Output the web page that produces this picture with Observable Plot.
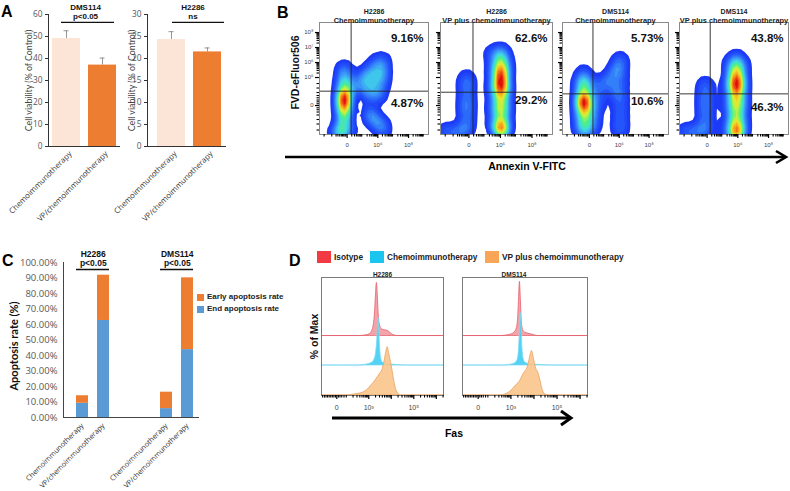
<!DOCTYPE html>
<html><head><meta charset="utf-8">
<script src="https://cdn.jsdelivr.net/npm/d3@7"></script>
<script src="https://cdn.jsdelivr.net/npm/@observablehq/plot@0.6"></script>
<style>
html,body{margin:0;padding:0;background:#fff;}
#root{position:relative;width:790px;height:491px;overflow:hidden;background:#fff;}
.letter{position:absolute;font:bold 16px 'Liberation Sans',Arial,sans-serif;color:#000;line-height:1;}
.lg{position:absolute;font:bold 8px 'Liberation Sans',Arial,sans-serif;color:#222;white-space:nowrap;display:flex;align-items:center;line-height:1;}
.sw{display:inline-block;margin-right:3px;}
</style></head><body><div id="root"></div>
<script>
// ================= DATA =================
// Panel A: cell viability (% of control)
const aTreatments = ["Chemoimmunotherapy", "VP/chemoimmunotherapy"];
const aDms114Mean = [49.1, 37.0];
const aDms114Err = [3.5, 3.2];
const aH2286Mean = [24.3, 21.5];
const aH2286Err = [1.8, 0.9];
const aBarColors = ["#fce4d6", "#ed7d31"];

// Panel B: Annexin V / FVD flow cytometry
const bCells = ["H2286", "H2286", "DMS114", "DMS114"];
const bTreatments = ["Chemoimmunotherapy", "VP plus chemoimmunotherapy", "Chemoimmunotherapy", "VP plus chemoimmunotherapy"];
const bLateApoptosis = [9.16, 62.6, 5.73, 43.8];   // upper-right quadrant
const bEarlyApoptosis = [4.87, 29.2, 10.6, 46.3];  // lower-right quadrant
const bGateAnnexin = [0.13, 0.13, 0.12, 0.10];
const bGateFvd = [4.09, 4.02, 3.91, 3.91];
const bXTickValues = [0, 1, 2];
const bXTickLabels = ["0", "10⁶", "10⁸"];
const bYTickValues = [3.13, 5, 6, 7, 8];
const bYTickLabels = ["0", "10⁵", "10⁶", "10⁷", "10⁸"];
// population anchors: [annexin, fvd, weight]
const bDensity1 = [
  [-0.1,5.6,1],[-0.1,5.13,1.1],[-0.1,4.67,1.3],[-0.1,4.27,1.6],[-0.1,3.87,2.2],[-0.1,3.47,3.2],[-0.1,3.07,2.2],[-0.1,2.67,1.7],[-0.1,2.27,1.4],[-0.13,1.87,1.2],[-0.16,1.47,1.1],[-0.2,1.2,1],
  [-0.35,1.4,0.8],[0.1,1.5,0.6],
  [0.98,6.13,0.6],[1.18,6.13,0.6],
  [0.75,5.67,0.6],[0.98,5.67,0.65],[1.18,5.67,0.6],
  [0.52,5.2,0.6],[0.75,5.2,0.65],[0.98,5.2,0.65],[1.18,5.2,0.6],
  [0.3,4.73,0.6],[0.52,4.73,0.6],[0.75,4.73,0.65],[0.98,4.73,0.65],[1.15,4.73,0.6],
  [0.2,4.27,0.6],[0.43,4.27,0.55],[0.66,4.27,0.6],[0.89,4.27,0.6],[1.08,4.27,0.55],
  [0.66,3.8,0.6],[0.89,3.8,0.6],[1.05,3.8,0.6],
  [0.69,2.6,0.75],[0.82,2.6,0.65],[0.85,2.2,0.75],[1.11,2.0,0.65],[1.02,1.8,0.75],[1.18,1.4,0.75]];
const bDensity2 = [
  [-0.83,1.4,0.9],[-0.63,1.4,0.9],[-0.43,1.4,0.9],[-0.23,1.4,0.9],
  [-0.07,5.07,1],[-0.07,4.67,1.2],[-0.07,4.27,1],[-0.07,3.87,0.9],[-0.07,3.47,1.2],[-0.07,3.07,1.3],[-0.07,2.67,1],[-0.07,2.27,1],[-0.07,1.87,1],[-0.1,1.47,1.1],
  [1.0,6.8,1.2],[1.0,6.4,1.6],[1.0,6.0,2],[1.0,5.6,2.4],[1.0,5.2,3],[1.0,4.8,3.4],[1.0,4.4,3],[1.0,4.0,2.5],[1.0,3.6,2.1],[1.0,3.2,2],[1.0,2.8,1.9],[1.0,2.4,1.8],[1.0,2.0,2],[1.0,1.6,3],[1.03,1.27,3.6],
  [0.8,6.4,1],[0.8,5.73,1.3],[0.8,5.07,1.5],[0.8,4.4,1.5],[0.8,3.73,1.3],[0.8,3.07,1.2],[0.8,2.4,1.2],[0.8,1.73,1.3],
  [1.2,6.4,1],[1.2,5.73,1.3],[1.2,5.07,1.5],[1.2,4.4,1.5],[1.2,3.73,1.3],[1.2,3.07,1.2],[1.2,2.4,1.2],[1.2,1.73,1.3],
  [0.7,6.67,0.8]];
const bDensity3 = [
  [-0.19,5.33,0.9],[-0.19,4.93,1],[-0.19,4.53,1.3],[-0.19,4.13,1.6],[-0.19,3.73,2.2],[-0.19,3.33,3.2],[-0.19,2.93,2.2],[-0.19,2.53,1.6],[-0.19,2.13,1.3],[-0.19,1.73,1.1],[-0.19,1.33,1],
  [-0.33,4.6,0.6],[-0.33,3.6,0.6],[-0.33,2.6,0.6],[-0.33,1.6,0.6],
  [-0.03,4.6,0.6],[-0.03,3.6,0.6],[-0.03,2.6,0.6],[-0.03,1.6,0.6],
  [0.26,4.27,0.75],[0.45,4.67,0.75],[0.65,5.07,0.75],[0.84,5.47,0.75],[1.0,5.93,0.75],[1.03,6.27,0.75],
  [1.03,5.47,0.75],[1.03,4.93,0.75],[1.03,4.4,0.75],[1.03,3.87,0.75],[1.03,3.33,0.75],[1.03,2.8,0.75],[1.03,2.27,0.75],[1.03,1.73,0.75],[1.03,1.27,0.75],
  [0.71,4.53,0.65],[0.84,4.0,0.65],
  [0.29,3.73,0.8],[0.23,3.2,0.8],[0.16,2.67,0.8],[0.13,2.13,0.8],[0.1,1.6,0.8]];
const bDensity4 = [
  [-0.79,1.4,0.9],[-0.6,1.4,0.9],[-0.41,1.4,0.9],[-0.22,1.4,0.9],
  [-0.06,4.67,0.9],[-0.06,4.27,1],[-0.06,3.87,1],[-0.06,3.47,1.2],[-0.06,3.07,1.1],[-0.06,2.67,1],[-0.06,2.27,1],[-0.06,1.87,1],[-0.06,1.47,1.1],
  [0.51,1.27,0.5],
  [0.95,6.33,1.2],[0.95,5.93,1.6],[0.95,5.53,2.2],[0.95,5.13,2.8],[0.95,4.73,3.4],[0.95,4.33,3],[0.95,3.93,2.5],[0.95,3.53,2.1],[0.95,3.13,2],[0.95,2.73,1.9],[0.95,2.33,1.9],[0.95,1.93,2.1],[0.95,1.53,3],[0.95,1.2,3.6],
  [0.76,6.0,1],[0.76,5.33,1.3],[0.76,4.67,1.5],[0.76,4.0,1.5],[0.76,3.33,1.3],[0.76,2.67,1.2],[0.76,2.0,1.2],[0.76,1.33,1.3],
  [1.14,6.0,1],[1.14,5.33,1.3],[1.14,4.67,1.5],[1.14,4.0,1.5],[1.14,3.33,1.3],[1.14,2.67,1.2],[1.14,2.0,1.2],[1.14,1.33,1.3]];

// Panel C: apoptosis rate (from panel B quadrants)
const cGroups = ["H2286", "DMS114"];
const cSignificance = ["p<0.05", "p<0.05"];
const cSeries = ["End apoptosis rate", "Early apoptosis rate"];
const cColors = ["#5b9bd5", "#ed7d31"];

// Panel D: Fas histograms  [Fas position (log units), % of max]
const dSamples = ["H2286", "DMS114"];
const dSeries = ["Isotype", "Chemoimmunotherapy", "VP plus chemoimmunotherapy"];
const dXTickValues = [1.58, 3, 5];
const dXTickLabels = ["0", "10³", "10⁵"];
const dH2286Isotype = [[0.9,14],[0.93,0],[2.6,0],[2.9,1.5],[3.05,4],[3.15,10],[3.22,22],[3.28,50],[3.32,85],[3.36,110],[3.40,85],[3.44,45],[3.5,22],[3.58,14],[3.7,12],[3.82,11],[3.92,8],[4.02,4],[4.15,1],[4.3,0],[6.32,0]];
const dH2286Chemo = [[0.9,0],[2.5,0],[2.8,1],[3.0,3],[3.15,6],[3.25,12],[3.32,25],[3.38,55],[3.42,90],[3.44,98],[3.47,70],[3.5,40],[3.55,15],[3.62,6],[3.8,3],[4.0,2],[4.3,1],[4.6,0],[6.32,0]];
const dH2286VP = [[0.9,58],[0.93,0],[2.0,0],[2.2,1],[2.5,3],[2.75,6],[2.95,12],[3.1,20],[3.25,28],[3.4,38],[3.5,45],[3.6,52],[3.7,70],[3.78,90],[3.84,100],[3.9,88],[3.98,70],[4.06,50],[4.14,28],[4.22,12],[4.32,3],[4.45,0],[6.32,0]];
const dDms114Isotype = [[0.9,14],[0.93,0],[2.6,0],[2.8,1],[3.0,3],[3.15,7],[3.25,15],[3.31,35],[3.35,75],[3.39,112],[3.43,75],[3.47,30],[3.53,12],[3.62,7],[3.75,5],[3.9,3],[4.05,1],[4.2,0],[6.32,0]];
const dDms114Chemo = [[0.9,0],[2.6,0],[2.9,1],[3.1,3],[3.25,8],[3.33,22],[3.38,60],[3.42,100],[3.44,108],[3.47,70],[3.5,35],[3.56,12],[3.65,5],[3.85,2.5],[4.1,1.5],[4.5,0.5],[4.8,0],[6.32,0]];
const dDms114VP = [[0.9,60],[0.93,0],[2.5,0],[2.75,2],[2.95,7],[3.1,14],[3.25,22],[3.4,30],[3.5,40],[3.6,48],[3.7,55],[3.78,68],[3.86,85],[3.91,92],[3.96,85],[4.02,70],[4.1,55],[4.18,48],[4.26,35],[4.34,18],[4.42,6],[4.55,1],[4.7,0],[6.32,0]];
const dSwatch = ["#f23a45", "#1cc4f0", "#f8a558"];
const dFills = ["#f29aa2", "#3fcdf3", "#f9c48c"];
const dStrokes = ["#e5606c", "#7fdcf2", "#eaa25e"];

// ================= HELPERS =================
const SANS = "'Liberation Sans', Arial, Helvetica, sans-serif";
const UI = "'Open Sans', 'Noto Sans', sans-serif";
const NARROW = "Lato, 'Open Sans', sans-serif";
const root = document.getElementById("root");
function put(node, left, top) {
  node.style.position = "absolute"; node.style.left = left + "px"; node.style.top = top + "px";
  root.appendChild(node); return node;
}
const baseStyle = (font, size, color) => ({background: "transparent", overflow: "visible", fontFamily: font, fontSize: size + "px", color});
const tickLabel = (values, labels) => d => { const k = values.indexOf(d); return k < 0 ? "" : labels[k]; };
function logMinors(from, to, unit) {
  const out = [];
  for (let d = from; d < to - 1e-9; d += unit) for (let k = 2; k <= 9; k++) out.push(+(d + Math.log10(k) * unit).toFixed(4));
  return out;
}
const jetScale = d3.scaleLinear()
  .domain([0, 0.16, 0.32, 0.46, 0.58, 0.72, 0.86, 1])
  .range(["#1a2df5", "#2456fa", "#3c96f8", "#3fd8e6", "#4cf08a", "#e6f02e", "#fb931d", "#e0120c"])
  .interpolate(d3.interpolateRgb).clamp(true);
const jet = t => jetScale(t);

// ================= PANEL A =================
function viability(o) {
  const rows = aTreatments.map((t, i) => ({t, mean: o.means[i], err: o.errs[i]}));
  return Plot.plot({
    width: o.width, height: 230, marginLeft: o.ml, marginRight: o.mr, marginTop: 14, marginBottom: 84,
    style: baseStyle(UI, 8, "#333"),
    x: {type: "band", domain: aTreatments, range: o.xRange, paddingInner: o.pi, paddingOuter: o.po},
    y: {domain: [0, o.yMax]},
    color: {domain: aTreatments, range: aBarColors},
    marks: [
      Plot.barY(rows, {x: "t", y: "mean", fill: "t"}),
      Plot.ruleX(rows, {x: "t", y1: "mean", y2: d => d.mean + d.err, stroke: "#8a8a8a", strokeWidth: 0.9}),
      Plot.tickY(rows, {x: "t", y: d => d.mean + d.err, stroke: "#8a8a8a", strokeWidth: 0.9, insetLeft: 11.5, insetRight: 11.5}),
      Plot.ruleY([0], {stroke: "#333"}),
      Plot.frame({anchor: "left", stroke: "#333"}),
      Plot.axisY(d3.range(0, o.yMax + 1e-9, o.yStep), {tickSize: 3, tickPadding: 3, stroke: "#333", fill: "#555", fontSize: 8.3, label: null}),
      Plot.axisX({tickRotate: -45, tickSize: 0, tickPadding: 6, dx: 4, fontSize: 7.8, fill: "#333", label: null}),
      Plot.text(["Cell viability (% of Control)"], {text: d => d, frameAnchor: "left", textAnchor: "middle", dx: -o.labelDx, rotate: -90, fontSize: 8.8, fill: "#444", fontFamily: NARROW}),
      Plot.ruleY([o.yMax * 0.94], {stroke: "#111", strokeWidth: 1.3, insetLeft: o.bl, insetRight: o.br}),
      Plot.text([o.cell], {text: d => d, frameAnchor: "top", dx: o.tdx, dy: -10.5, fontWeight: "bold", fontSize: 8, fill: "#111", fontFamily: SANS}),
      Plot.text([o.sig], {text: d => d, frameAnchor: "top", dx: o.tdx, dy: -1.5, fontWeight: "bold", fontSize: 8, fill: "#111", fontFamily: SANS})
    ]
  });
}
put(viability({width: 130, ml: 48, mr: 10, xRange: [48, 120], pi: 0.214, po: 0.107, means: aDms114Mean, errs: aDms114Err,
  yMax: 60, yStep: 10, labelDx: 19, bl: 13, br: 6, cell: "DMS114", sig: "p<0.05", tdx: 1}), 0, 0);
put(viability({width: 140, ml: 47, mr: 14, xRange: [47, 131], pi: 0.224, po: 0.265, means: aH2286Mean, errs: aH2286Err,
  yMax: 30, yStep: 5, labelDx: 15, bl: 25, br: 2, cell: "H2286", sig: "ns", tdx: 6}), 100, 0);

// ================= PANEL B =================
const bDensity = [bDensity1, bDensity2, bDensity3, bDensity4];
const bFrameLeft = [319, 440, 562, 679];
const bFrameWidth = [109, 112, 106, 109];
const bLowerDy = [25, 22, 23, 29];
const bXMinor = [-0.75, -0.5, -0.36, -0.3, -0.24, -0.19, -0.15, -0.11, -0.07, -0.04].concat(logMinors(0, 2.5, 0.5));
const bYMinor = [1.5, 1.9, 2.2, 2.5, 2.7, 2.85, 2.98, 3.25, 3.38, 3.5, 3.65, 3.8, 4.0, 4.3, 4.6].concat(logMinors(5, 8, 1));
function flowPlot(i) {
  const fw = bFrameWidth[i];
  const yLabelFmt = i === 0 ? tickLabel(bYTickValues, bYTickLabels) : () => "";
  return Plot.plot({
    width: 30 + fw + 2, height: 152, marginLeft: 30, marginRight: 2, marginTop: 22, marginBottom: 18,
    style: baseStyle(SANS, 6, "#444"),
    x: {domain: [-0.9, 2.65]}, y: {domain: [1.2, 8.67]},
    color: {type: "linear", interpolate: jet},
    marks: [
      Plot.density(bDensity[i], {x: d => d[0], y: d => d[1], weight: d => d[2], bandwidth: 4, thresholds: 20, fill: "density", stroke: "none", clip: true}),
      Plot.ruleX([bGateAnnexin[i]], {stroke: "#222", strokeWidth: 0.9}),
      Plot.ruleY([bGateFvd[i]], {stroke: "#222", strokeWidth: 0.9}),
      Plot.frame({stroke: "#8a8a8a"}),
      Plot.axisX(bXTickValues, {tickSize: 4, tickPadding: 4, strokeWidth: 1.2, stroke: "#000", fill: "#444", fontSize: 6, tickFormat: tickLabel(bXTickValues, bXTickLabels), label: null}),
      Plot.axisX(bXMinor, {tickSize: 2.5, strokeWidth: 1.1, stroke: "#000", tickFormat: () => "", label: null}),
      Plot.axisY(bYTickValues, {tickSize: 4, tickPadding: 2, strokeWidth: 1.2, stroke: "#000", fill: "#444", fontSize: 6, tickFormat: yLabelFmt, label: null}),
      Plot.axisY(bYMinor, {tickSize: 2.5, strokeWidth: 1.1, stroke: "#000", tickFormat: () => "", label: null}),
      Plot.text([bLateApoptosis[i]], {text: d => d + "%", frameAnchor: "right", dx: -5, dy: -40, textAnchor: "end", fontWeight: "bold", fontSize: 11.5, fill: "#111"}),
      Plot.text([bEarlyApoptosis[i]], {text: d => d + "%", frameAnchor: "right", dx: -5, dy: bLowerDy[i], textAnchor: "end", fontWeight: "bold", fontSize: 11.5, fill: "#111"}),
      Plot.text([bCells[i]], {text: d => d, frameAnchor: "top", dy: -13, fontWeight: "bold", fontSize: 7, fill: "#222"}),
      Plot.text([bTreatments[i]], {text: d => d, frameAnchor: "top", dy: -5, fontWeight: "bold", fontSize: 7.4, fill: "#222"}),
      ...(i === 0 ? [Plot.text(["FVD-eFluor506"], {text: d => d, frameAnchor: "left", textAnchor: "middle", dx: -24, dy: -6, rotate: -90, fontWeight: "bold", fontSize: 10.5, fill: "#111"})] : [])
    ]
  });
}
for (let i = 0; i < 4; i++) put(flowPlot(i), bFrameLeft[i] - 30, 0);

// ================= PANEL C =================
const cKeys = [];
cGroups.forEach((g, gi) => { aTreatments.forEach(t => cKeys.push(g + "|" + t)); if (gi === 0) cKeys.push("gap1", "gap2"); });
const cRows = [];
cSeries.forEach((s, si) => cGroups.forEach((g, gi) => aTreatments.forEach((t, ti) => {
  const k = gi * 2 + ti;
  cRows.push({key: g + "|" + t, series: s, value: (si === 0 ? bLateApoptosis[k] : bEarlyApoptosis[k]) / 100});
})));
const cBrackets = cGroups.map((g, gi) => ({g, sig: cSignificance[gi], a: g + "|" + aTreatments[0], b: g + "|" + aTreatments[1]}));
put(Plot.plot({
  width: 300, height: 251, marginLeft: 63, marginRight: 101, marginTop: 22, marginBottom: 74,
  style: baseStyle(UI, 8, "#333"),
  x: {type: "band", domain: cKeys, range: [74.25, 194.2], paddingInner: 0.42, paddingOuter: 0},
  y: {domain: [0, 1]},
  color: {domain: cSeries, range: cColors},
  marks: [
    Plot.barY(cRows, {x: "key", y: "value", fill: "series"}),
    Plot.ruleY([0], {stroke: "#444"}),
    Plot.frame({anchor: "left", stroke: "#444"}),
    Plot.axisY(d3.range(0, 1.0001, 0.1), {tickSize: 0, tickPadding: 6, tickFormat: d => (d * 100).toFixed(2) + "%", fontSize: 9.5, fill: "#595959", label: null}),
    Plot.axisX({tickRotate: -45, tickSize: 0, tickPadding: 7, fontSize: 7.2, fill: "#333", label: null, tickFormat: d => d.includes("|") ? d.split("|")[1] : ""}),
    Plot.ruleY(cBrackets, {y: 0.955, x1: "a", x2: "b", stroke: "#111", strokeWidth: 1.4}),
    Plot.text(cBrackets, {x: "a", y: 1, dx: 10.75, dy: -8, text: "g", fontWeight: "bold", fontSize: 8.5, fill: "#111", fontFamily: SANS}),
    Plot.text(cBrackets, {x: "a", y: 1, dx: 10.75, dy: 1, text: "sig", fontWeight: "bold", fontSize: 8.5, fill: "#111", fontFamily: SANS}),
    Plot.text(["Apoptosis rate (%)"], {text: d => d, frameAnchor: "left", textAnchor: "middle", dx: -49, dy: 6, rotate: -90, fontWeight: "bold", fontSize: 11, fill: "#111", fontFamily: NARROW})
  ]
}), 0, 240);
// legend C
[1, 0].forEach((si, r) => {
  const d = document.createElement("div"); d.className = "lg";
  d.innerHTML = `<span class="sw" style="width:7px;height:7px;background:${cColors[si]}"></span>${cSeries[si]}`;
  put(d, 197, 293 + r * 12);
});

// ================= PANEL D =================
const dCurves = [[dH2286Isotype, dH2286Chemo, dH2286VP], [dDms114Isotype, dDms114Chemo, dDms114VP]];
const dOffsets = [123, 62, 0];
const dFrameLeft = [321, 462];
const dFrameWidth = [122, 125];
const dTitleDx = [0, -11];
const dXMinor = [0.95, 1.03, 1.1, 1.17, 1.24, 1.31, 1.38, 1.45, 1.52, 1.65, 1.72, 1.8, 1.9, 2.0].concat(logMinors(2, 6.3, 1)).filter(v => v < 6.32);
const dXMajor = [3, 4, 5, 6];
function histPlot(k) {
  return Plot.plot({
    width: 30 + dFrameWidth[k] + 4, height: 147, marginLeft: 30, marginRight: 4, marginTop: 10, marginBottom: 19,
    style: baseStyle(SANS, 7, "#444"),
    x: {domain: [0.9, 6.32]}, y: {domain: [0, 244]},
    marks: [
      ...dCurves[k].map((c, j) => Plot.areaY(c, {x: d => d[0], y1: () => dOffsets[j], y2: d => dOffsets[j] + d[1], fill: dFills[j], fillOpacity: 0.9, stroke: dStrokes[j], strokeWidth: 0.8, curve: "monotone-x", clip: true})),
      Plot.frame({stroke: "#7a7a7a"}),
      Plot.axisX(dXMajor.concat([1.58]), {tickSize: 4, tickPadding: 6, strokeWidth: 1.2, stroke: "#000", fill: "#444", fontSize: 7, tickFormat: tickLabel(dXTickValues, dXTickLabels), label: null}),
      Plot.axisX(dXMinor, {tickSize: 2.5, strokeWidth: 1.1, stroke: "#000", tickFormat: () => "", label: null}),
      Plot.axisY([], {label: null}),
      Plot.text([dSamples[k]], {text: d => d, frameAnchor: "top", dx: dTitleDx[k], dy: -5, fontWeight: "bold", fontSize: 6.5, fill: "#222"}),
      ...(k === 0 ? [Plot.text(["% of Max"], {text: d => d, frameAnchor: "left", textAnchor: "middle", dx: -7, rotate: -90, fontWeight: "bold", fontSize: 10.5, fill: "#111"})] : [])
    ]
  });
}
for (let k = 0; k < 2; k++) put(histPlot(k), dFrameLeft[k] - 30, 267);
// legend D
const dLegendLeft = [317, 370, 485];
dSeries.forEach((s, j) => {
  const d = document.createElement("div"); d.className = "lg";
  d.style.fontSize = "8.3px";
  d.innerHTML = `<span class="sw" style="width:14px;height:12px;background:${dSwatch[j]}"></span>${s}`;
  put(d, dLegendLeft[j], 251);
});

// ================= ARROWS, AXIS TITLES, PANEL LETTERS =================
const ov = d3.create("svg").attr("width", 790).attr("height", 491).style("position", "absolute").style("left", "0px").style("top", "0px").style("overflow", "visible");
ov.append("line").attr("x1", 285).attr("x2", 784).attr("y1", 157).attr("y2", 157).attr("stroke", "#000").attr("stroke-width", 2.6);
ov.append("polyline").attr("points", "776,151 786,157 776,163").attr("fill", "none").attr("stroke", "#000").attr("stroke-width", 2.6);
ov.append("text").attr("x", 527).attr("y", 170).attr("text-anchor", "middle").attr("font-family", SANS).attr("font-weight", "bold").attr("font-size", 10.5).text("Annexin V-FITC");
ov.append("line").attr("x1", 332).attr("x2", 570).attr("y1", 418).attr("y2", 418).attr("stroke", "#000").attr("stroke-width", 3);
ov.append("polyline").attr("points", "561,411 571,418 561,425").attr("fill", "none").attr("stroke", "#000").attr("stroke-width", 3);
ov.append("text").attr("x", 454).attr("y", 437).attr("text-anchor", "middle").attr("font-family", SANS).attr("font-weight", "bold").attr("font-size", 10.5).text("Fas");
root.appendChild(ov.node());
[["A", 1, 4], ["B", 277, 5], ["C", 2, 253], ["D", 289, 253]].forEach(([t, x, y]) => {
  const d = document.createElement("div"); d.className = "letter"; d.textContent = t; d.style.left = x + "px"; d.style.top = y + "px"; root.appendChild(d);
});
</script></body></html>
